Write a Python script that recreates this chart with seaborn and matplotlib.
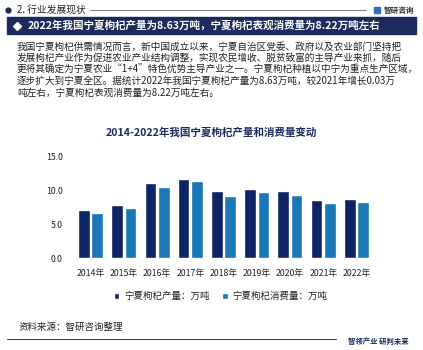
import matplotlib
matplotlib.use("Agg")
import matplotlib.pyplot as plt
import seaborn as sns
import pandas as pd
from matplotlib.patches import Rectangle
from matplotlib.lines import Line2D

years = ["2014年", "2015年", "2016年", "2017年", "2018年", "2019年", "2020年", "2021年", "2022年"]
production = [7.1, 7.8, 11.0, 11.6, 9.8, 10.1, 9.8, 8.6, 8.63]
consumption = [6.6, 7.35, 10.4, 11.3, 9.2, 9.75, 9.3, 8.1, 8.22]
series_names = ["宁夏枸杞产量：万吨", "宁夏枸杞消费量：万吨"]
yticks = [0.0, 5.0, 10.0, 15.0]

header = "2. 行业发展现状"
banner = "2022年我国宁夏枸杞产量为8.63万吨，宁夏枸杞表观消费量为8.22万吨左右"
paragraph = [
    "我国宁夏枸杞供需情况而言，新中国成立以来，宁夏自治区党委、政府以及农业部门坚持把",
    "发展枸杞产业作为促进农业产业结构调整，实现农民增收、脱贫致富的主导产业来抓，随后",
    "更将其确定为宁夏农业“1+4”特色优势主导产业之一。宁夏枸杞种植以中宁为重点生产区域，",
    "逐步扩大到宁夏全区。据统计2022年我国宁夏枸杞产量为8.63万吨，较2021年增长0.03万",
    "吨左右，宁夏枸杞表观消费量为8.22万吨左右。",
]
chart_title = "2014-2022年我国宁夏枸杞产量和消费量变动"
source = "资料来源：智研咨询整理"
slogan = "智领产业 研判未来"
brand = "智研咨询"

sns.set_theme(style="white")
plt.rcParams['font.family'] = ['Noto Sans CJK SC', 'DejaVu Sans']

NAVY = "#0f2464"
BLUE = "#1a78b8"
BANNER = "#1b2b5e"

W, H = 423, 350
fig = plt.figure(figsize=(W / 100, H / 100), dpi=100)
fig.patch.set_facecolor("white")

def fx(x):
    return x / W

def fy(y):
    return 1 - y / H

# header
fig.add_artist(Line2D([fx(8)], [fy(10)], marker="o", markersize=3.5, color=BANNER, transform=fig.transFigure))
fig.text(fx(17), fy(10), header, fontsize=7, color="#222222", va="center", ha="left")
fig.add_artist(Line2D([fx(90), fx(366)], [fy(10), fy(10)], color="#666666", lw=0.6, transform=fig.transFigure))
fig.add_artist(Rectangle((fx(374), fy(13)), fx(6), 6 / H, color="#2f6fb5", transform=fig.transFigure))
fig.text(fx(384), fy(10), brand, fontsize=5.5, color="#333333", va="center", ha="left", fontweight="bold")

# banner
fig.add_artist(Rectangle((fx(7), fy(34)), fx(409), 17 / H, color=BANNER, transform=fig.transFigure))
fig.add_artist(Line2D([fx(17)], [fy(25.5)], marker="D", markersize=4.5, color="white", transform=fig.transFigure))
fig.text(fx(28), fy(25.5), banner, fontsize=7.6, color="white", va="center", ha="left", fontweight="bold")

# paragraph
for i, line in enumerate(paragraph):
    fig.text(fx(17), fy(46.5 + i * 11.6), line, fontsize=6.95, color="#222222", va="center", ha="left")

# chart title
fig.text(0.5, fy(133), chart_title, fontsize=7.6, color=BANNER, va="center", ha="center", fontweight="bold")

# chart
df = pd.DataFrame({
    "year": years * 2,
    "value": production + consumption,
    "series": [series_names[0]] * len(years) + [series_names[1]] * len(years),
})
ax = fig.add_axes([fx(74), 1 - 258.3 / H, fx(373 - 74), (258.3 - 156) / H])
sns.barplot(data=df, x="year", y="value", hue="series", palette=[NAVY, BLUE],
            ax=ax, width=0.8, gap=0.12, saturation=1)
ax.set_xlim(-0.5, len(years) - 0.5)
ax.set_ylim(0, 15)
ax.set_yticks(yticks)
ax.set_yticklabels([f"{v:.1f}" for v in yticks])
ax.set_xlabel("")
ax.set_ylabel("")
ax.set_facecolor("none")
for s in ax.spines.values():
    s.set_visible(False)
ax.tick_params(axis="both", length=0, labelsize=6.3, colors="#222222")
ax.tick_params(axis="y", pad=8)
ax.tick_params(axis="x", pad=8)
ax.grid(False)
leg = ax.legend(loc="center", bbox_to_anchor=(0.49, (258.3 - 296.5) / (258.3 - 156)),
                ncol=2, frameon=False, fontsize=6.8, handlelength=0.6, handleheight=0.6,
                columnspacing=1.3, handletextpad=0.5)
for t in leg.get_texts():
    t.set_color("#222222")

# source and footer
fig.text(fx(18), fy(327), source, fontsize=6.8, color="#222222", va="center", ha="left")
fig.add_artist(Line2D([fx(7), fx(336)], [fy(339), fy(339)], color=BANNER, lw=0.7, transform=fig.transFigure))
fig.text(fx(348), fy(341), slogan, fontsize=5.3, color=BANNER, va="center", ha="left", fontweight="bold")

fig.savefig("out.png", dpi=100, facecolor="white")
